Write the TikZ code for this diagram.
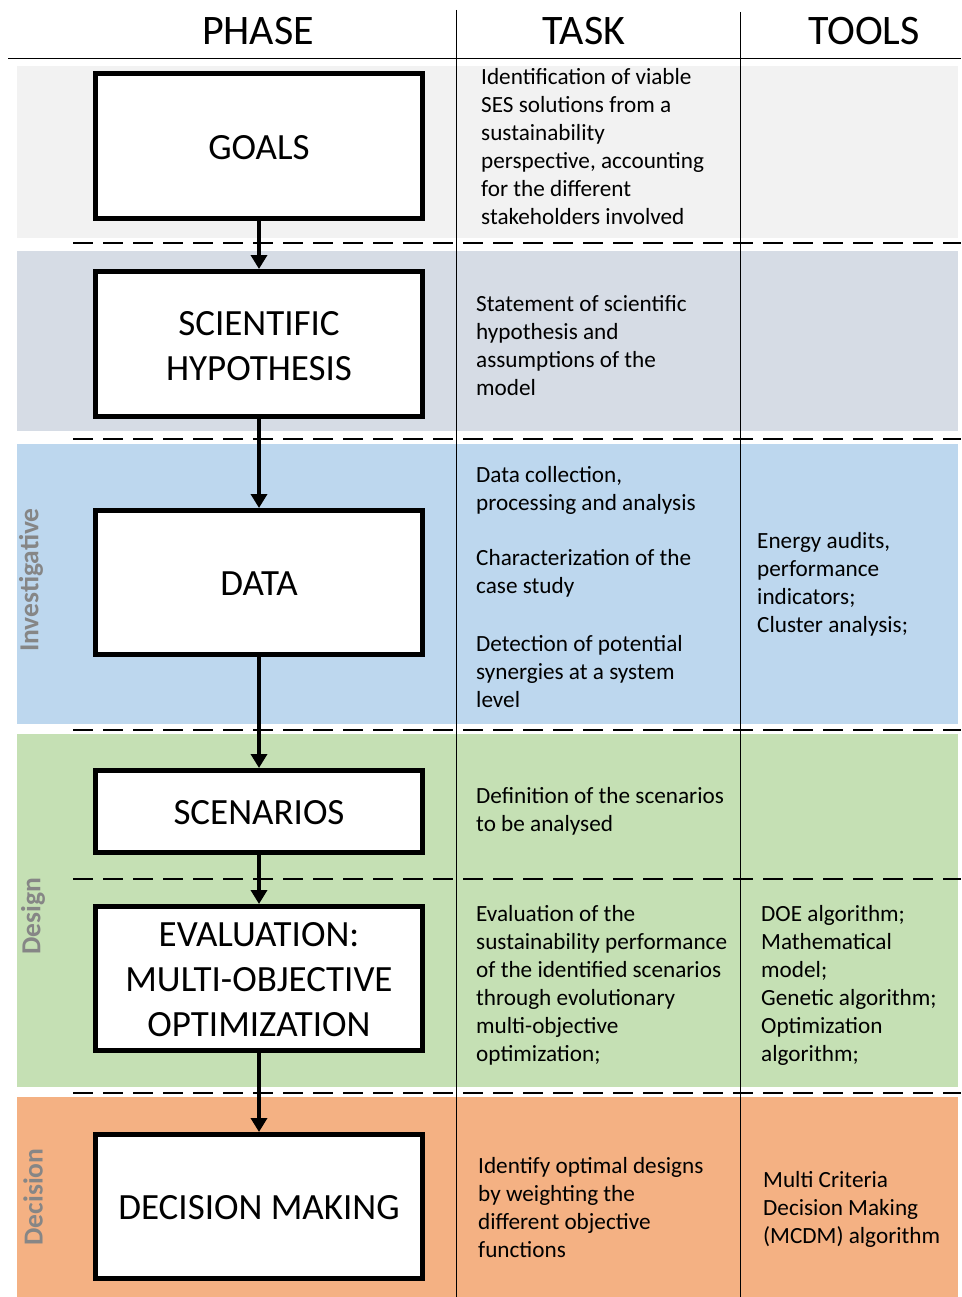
\documentclass[tikz,border=0pt]{standalone}
\usepackage{fontspec}
\setmainfont{Carlito}
\usetikzlibrary{arrows.meta}
\definecolor{bandgoal}{HTML}{F2F2F2}
\definecolor{bandhyp}{HTML}{D6DCE5}
\definecolor{bandinv}{HTML}{BDD7EE}
\definecolor{banddes}{HTML}{C5E0B4}
\definecolor{banddec}{HTML}{F4B183}
\definecolor{sidegray}{HTML}{868686}
\tikzset{
  phasebox/.style={draw=black, fill=white, line width=5pt, minimum width=327pt,
    inner sep=0pt, align=center, font=\fontsize{37}{45}\selectfont},
  boxtext/.style={inner sep=0pt, align=center, font=\fontsize{37}{45}\selectfont},
  flow/.style={line width=4pt, -{Triangle[width=16pt,length=14pt]}},
  sep/.style={line width=2pt, dash pattern=on 20pt off 10pt},
  col/.style={line width=0.9pt},
  head/.style={font=\fontsize{42}{46}\selectfont, inner sep=0pt},
  body/.style={anchor=west, align=left, inner sep=0pt, font=\fontsize{23.2}{28}\selectfont},
  side/.style={rotate=90, inner sep=0pt, text=sidegray, font=\bfseries\fontsize{27.5}{31}\selectfont}
}
\begin{document}
\begin{tikzpicture}[x=1pt,y=-1pt]
\useasboundingbox (0,0) rectangle (961,1297);
% coloured bands
\fill[bandgoal] (17,66) rectangle (958,238);
\fill[bandhyp]  (17,251) rectangle (958,431);
\fill[bandinv]  (17,444) rectangle (958,724);
\fill[banddes]  (17,734) rectangle (958,1087);
\fill[banddec]  (17,1097) rectangle (958,1297);
% dashed separators between phases
\foreach \yy in {243,439,730,879,1093}
  \draw[sep] (73,\yy) -- (961,\yy);
% table rules
\draw[col] (8,58) -- (961,58);
\draw[col] (456,10) -- (456,1297);
\draw[col] (740,12) -- (740,1297);
% headings
\node[head] (hphase) at (258,31) {PHASE};
\node[head] (htask)  at (584,31) {TASK};
\node[head] (htools) at (864,31) {TOOLS};
% phase boxes (frames), labels set slightly low as in the layout
\node[phasebox, minimum height=145pt] (goals) at (259,146) {};
\node[phasebox, minimum height=145pt] (hyp)   at (259,344) {};
\node[phasebox, minimum height=144pt] (data)  at (259,582.5) {};
\node[phasebox, minimum height=82pt]  (scen)  at (259,811.5) {};
\node[phasebox, minimum height=144pt] (eval)  at (259,978.5) {};
\node[phasebox, minimum height=144pt] (dec)   at (259,1206.5) {};
\node[boxtext] (goalst) at (259,148) {GOALS};
\node[boxtext] (hypt)   at (259,346) {SCIENTIFIC\\HYPOTHESIS};
\node[boxtext] (datat)  at (259,584) {DATA};
\node[boxtext] (scent)  at (259,813) {SCENARIOS};
\node[boxtext] (evalt)  at (259,980) {EVALUATION:\\MULTI-OBJECTIVE\\OPTIMIZATION};
\node[boxtext] (dect)   at (259,1208) {DECISION MAKING};
% flow arrows
\draw[flow] (goals.south) -- (hyp.north);
\draw[flow] (hyp.south) -- (data.north);
\draw[flow] (data.south) -- (scen.north);
\draw[flow] (scen.south) -- (eval.north);
\draw[flow] (eval.south) -- (dec.north);
% side labels
\node[side] (linv) at (31,580) {Investigative};
\node[side] (ldes) at (33,916) {Design};
\node[side] (ldec) at (33,1197) {Decision};
% tasks
\node[body] (tgoals) at (481,147) {Identification of viable\\SES solutions from a\\sustainability\\perspective, accounting\\for the different\\stakeholders involved};
\node[body] (thyp) at (476,345.5) {Statement of scientific\\hypothesis and\\assumptions of the\\model};
\node[body] (tdata1) at (476,490.5) {Data collection,\\processing and analysis};
\node[body] (tdata2) at (476,573.5) {Characterization of the\\case study};
\node[body] (tdata3) at (476,671.5) {Detection of potential\\synergies at a system\\level};
\node[body] (tscen) at (476,811) {Definition of the scenarios\\to be analysed};
\node[body] (teval) at (476,985) {Evaluation of the\\sustainability performance\\of the identified scenarios\\through evolutionary\\multi-objective\\optimization;};
\node[body] (tdec) at (478,1207.5) {Identify optimal designs\\by weighting the\\different objective\\functions};
% tools
\node[body] (odata) at (757,584) {Energy audits,\\performance\\indicators;\\Cluster analysis;};
\node[body] (oeval) at (761,985) {DOE algorithm;\\Mathematical\\model;\\Genetic algorithm;\\Optimization\\algorithm;};
\node[body] (odec) at (763,1209.5) {Multi Criteria\\Decision Making\\(MCDM) algorithm};
\end{tikzpicture}
\end{document}
